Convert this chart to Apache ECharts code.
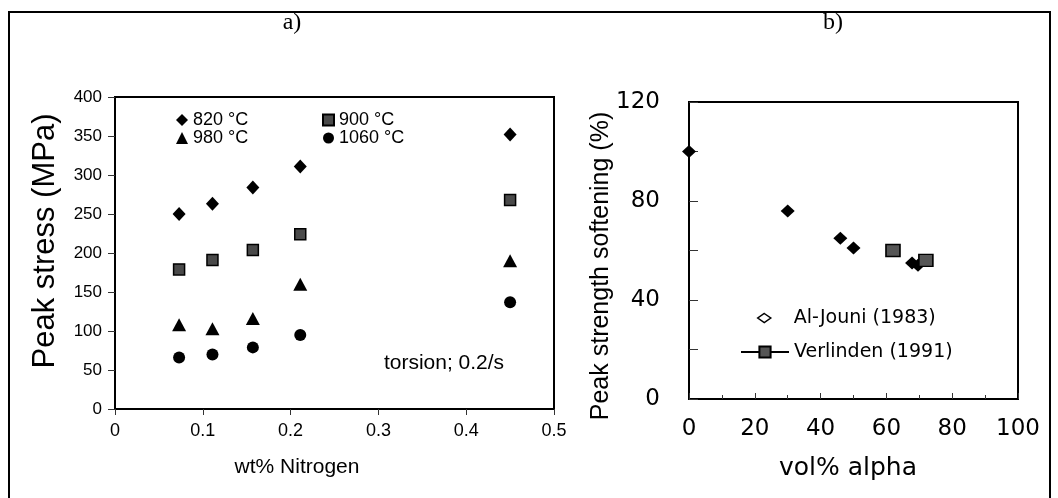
<!DOCTYPE html>
<html>
<head>
<meta charset="utf-8">
<script src="https://cdn.jsdelivr.net/npm/echarts@6/dist/echarts.min.js"></script>
<style>
html,body{margin:0;padding:0;background:#fff;}
#chart{width:1058px;height:498px;}
</style>
</head>
<body>
<div id="chart"></div>
<script>
// Panel a) peak stress vs nitrogen
const nitrogen = [0.073, 0.111, 0.157, 0.211, 0.45];
const stress820 = [250, 263, 284, 311, 352];
const stress900 = [179, 191, 204, 224, 268];
const stress980 = [108, 103, 116, 160, 190];
const stress1060 = [66, 70, 79, 95, 137];
const tempNames = ['820 °C', '900 °C', '980 °C', '1060 °C'];

// Panel b) peak strength softening vs vol% alpha
const alJouniAlpha = [0, 30, 46, 50, 67.8, 69.6];
const alJouniSoft = [100, 76, 65, 61, 55, 54];
const verlindenAlpha = [62, 72];
const verlindenSoft = [60, 56];
const sourceNames = ['Al-Jouni (1983)', 'Verlinden (1991)'];

const pairs = (xs, ys) => xs.map((x, i) => [x, ys[i]]);

const chart = echarts.init(document.getElementById('chart'), null, {renderer: 'canvas'});
const sans = 'Liberation Sans, Arial, sans-serif';
const wide = 'DejaVu Sans, sans-serif';

const option = {
  animation: false,
  backgroundColor: '#fff',
  grid: [
    {left: 115, top: 97, width: 439, height: 312, show: true, borderColor: '#000', borderWidth: 2, backgroundColor: 'transparent'},
    {left: 689, top: 102, width: 329, height: 297, show: true, borderColor: '#000', borderWidth: 2, backgroundColor: 'transparent'}
  ],
  xAxis: [
    {
      type: 'value', gridIndex: 0, min: 0, max: 0.5, interval: 0.1,
      axisLine: {show: true, onZero: false, lineStyle: {color: '#000', width: 2}},
      axisTick: {show: true, inside: false, length: 6, lineStyle: {color: '#333', width: 1}},
      axisLabel: {color: '#000', fontFamily: sans, fontSize: 18, margin: 13},
      splitLine: {show: false}
    },
    {
      type: 'value', gridIndex: 1, min: 0, max: 100, interval: 20,
      axisLine: {show: true, onZero: false, lineStyle: {color: '#000', width: 2}},
      axisTick: {show: true, inside: true, length: 6, lineStyle: {color: '#333', width: 1}},
      minorTick: {show: true, splitNumber: 2, length: 4, lineStyle: {color: '#333', width: 1}},
      axisLabel: {color: '#000', fontFamily: wide, fontSize: 23, margin: 19},
      splitLine: {show: false}
    }
  ],
  yAxis: [
    {
      type: 'value', gridIndex: 0, min: 0, max: 400, interval: 50,
      axisLine: {show: true, onZero: false, lineStyle: {color: '#000', width: 2}},
      axisTick: {show: true, inside: false, length: 7, lineStyle: {color: '#333', width: 1}},
      axisLabel: {color: '#000', fontFamily: sans, fontSize: 17, margin: 13},
      splitLine: {show: false}
    },
    {
      type: 'value', gridIndex: 1, min: 0, max: 120, interval: 40,
      axisLine: {show: true, onZero: false, lineStyle: {color: '#000', width: 2}},
      axisTick: {show: true, inside: true, length: 9, lineStyle: {color: '#333', width: 1}},
      minorTick: {show: true, splitNumber: 2, length: 9, lineStyle: {color: '#333', width: 1}},
      axisLabel: {color: '#000', fontFamily: wide, fontSize: 23, margin: 29},
      splitLine: {show: false}
    }
  ],
  legend: [
    {
      data: [tempNames[0], tempNames[2]], orient: 'vertical', left: 176, top: 111,
      padding: 0, itemGap: 0, itemWidth: 12, itemHeight: 12, selectedMode: false,
      textStyle: {color: '#000', fontFamily: sans, fontSize: 18, lineHeight: 15}
    },
    {
      data: [tempNames[1], tempNames[3]], orient: 'vertical', left: 322, top: 111,
      padding: 0, itemGap: 0, itemWidth: 11, itemHeight: 11, selectedMode: false,
      textStyle: {color: '#000', fontFamily: sans, fontSize: 18, lineHeight: 15}
    },
    {
      data: [{name: sourceNames[0], itemStyle: {color: '#fff', borderColor: '#000', borderWidth: 1.5}}],
      left: 757, top: 308, padding: 0, itemWidth: 13, itemHeight: 9, selectedMode: false,
      textStyle: {color: '#000', fontFamily: wide, fontSize: 19, lineHeight: 20, padding: [0, 0, 0, 18]}
    },
    {
      data: [{name: sourceNames[1], lineStyle: {color: '#000', width: 2, opacity: 1}}],
      left: 740, top: 342, padding: 0, itemWidth: 48, itemHeight: 14, selectedMode: false,
      textStyle: {color: '#000', fontFamily: wide, fontSize: 19, lineHeight: 20}
    }
  ],
  graphic: [
    {type: 'rect', silent: true, shape: {x: 9, y: 12, width: 1041, height: 500}, style: {fill: 'none', stroke: '#000', lineWidth: 2}},
    {type: 'text', x: 292, y: 23, style: {text: 'a)', font: '24px "Liberation Serif", serif', fill: '#000', textAlign: 'center', textVerticalAlign: 'middle'}},
    {type: 'text', x: 833, y: 23, style: {text: 'b)', font: '24px "Liberation Serif", serif', fill: '#000', textAlign: 'center', textVerticalAlign: 'middle'}},
    {type: 'text', x: 45, y: 241, rotation: Math.PI / 2, style: {text: 'Peak stress (MPa)', font: '31px "Liberation Sans", Arial, sans-serif', fill: '#000', textAlign: 'center', textVerticalAlign: 'middle'}},
    {type: 'text', x: 297, y: 467, style: {text: 'wt% Nitrogen', font: '21px "Liberation Sans", Arial, sans-serif', fill: '#000', textAlign: 'center', textVerticalAlign: 'middle'}},
    {type: 'text', x: 444, y: 363, style: {text: 'torsion; 0.2/s', font: '21px "Liberation Sans", Arial, sans-serif', fill: '#000', textAlign: 'center', textVerticalAlign: 'middle'}},
    {type: 'text', x: 601, y: 266, rotation: Math.PI / 2, style: {text: 'Peak strength softening (%)', font: '25px "Liberation Sans", Arial, sans-serif', fill: '#000', textAlign: 'center', textVerticalAlign: 'middle'}},
    {type: 'text', x: 848, y: 468, style: {text: 'vol% alpha', font: '25px "DejaVu Sans", sans-serif', fill: '#000', textAlign: 'center', textVerticalAlign: 'middle'}}
  ],
  series: [
    {
      name: tempNames[0], type: 'scatter', xAxisIndex: 0, yAxisIndex: 0,
      symbol: 'diamond', symbolSize: [13, 14], itemStyle: {color: '#000', opacity: 1},
      data: pairs(nitrogen, stress820)
    },
    {
      name: tempNames[1], type: 'scatter', xAxisIndex: 0, yAxisIndex: 0,
      symbol: 'rect', symbolSize: 11, itemStyle: {color: '#4a4a4a', borderColor: '#000', borderWidth: 1.5, opacity: 1},
      data: pairs(nitrogen, stress900)
    },
    {
      name: tempNames[2], type: 'scatter', xAxisIndex: 0, yAxisIndex: 0,
      symbol: 'triangle', symbolSize: [14, 13], itemStyle: {color: '#000', opacity: 1},
      data: pairs(nitrogen, stress980)
    },
    {
      name: tempNames[3], type: 'scatter', xAxisIndex: 0, yAxisIndex: 0,
      symbol: 'circle', symbolSize: 12, itemStyle: {color: '#000', opacity: 1},
      data: pairs(nitrogen, stress1060)
    },
    {
      name: sourceNames[0], type: 'scatter', xAxisIndex: 1, yAxisIndex: 1,
      symbol: 'diamond', symbolSize: [14, 13], itemStyle: {color: '#000', opacity: 1},
      data: pairs(alJouniAlpha, alJouniSoft)
    },
    {
      name: sourceNames[1], type: 'line', xAxisIndex: 1, yAxisIndex: 1,
      symbol: 'rect', symbolSize: [14, 12], showSymbol: true,
      lineStyle: {width: 0, opacity: 0},
      itemStyle: {color: '#555', borderColor: '#000', borderWidth: 1.5, opacity: 1},
      data: pairs(verlindenAlpha, verlindenSoft)
    }
  ]
};
chart.setOption(option);
</script>
</body>
</html>
